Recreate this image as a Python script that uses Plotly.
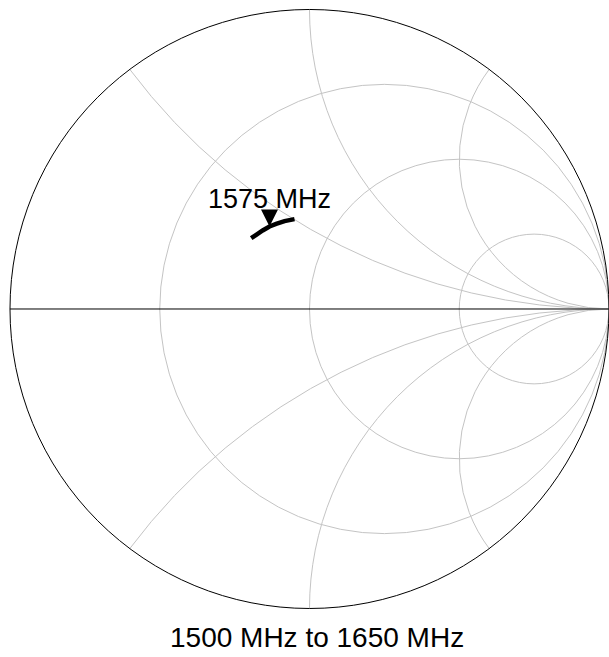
import plotly.graph_objects as go

# Sweep frequencies (MHz) and normalized impedance
freq_mhz = [1500, 1525, 1550, 1575, 1600, 1625, 1650]
z_real = [0.611, 0.626, 0.645, 0.666, 0.689, 0.720, 0.761]
z_imag = [0.319, 0.342, 0.373, 0.405, 0.432, 0.466, 0.503]

marker_freq = 1575
marker_label = "1575 MHz"
title_text = "1500 MHz to 1650 MHz"

r_grid = [1/3, 1, 3]
x_grid = [-2, -1, -0.5, 0.5, 1, 2]

mi = freq_mhz.index(marker_freq)

fig = go.Figure()
fig.add_trace(go.Scattersmith(
    real=z_real, imag=z_imag, mode="lines",
    line=dict(color="black", width=4.5),
    hoverinfo="skip", showlegend=False,
))
fig.add_trace(go.Scattersmith(
    real=[z_real[mi]], imag=[z_imag[mi]], mode="markers+text",
    marker=dict(symbol="arrow-down", size=17, color="black"),
    text=[marker_label], textposition="top center",
    textfont=dict(family="Liberation Sans, Arial, sans-serif", size=27, color="black"),
    hoverinfo="skip", showlegend=False,
))

grid_col = "#c4c4c4"
fig.update_layout(
    width=609, height=657,
    margin=dict(l=0, r=0, t=0, b=0),
    paper_bgcolor="white",
    showlegend=False,
    hovermode=False,
    font=dict(family="Liberation Sans, Arial, sans-serif", color="black"),
    smith=dict(
        domain=dict(x=[0.0164, 1.0], y=[0.0738, 0.9856]),
        bgcolor="white",
        realaxis=dict(tickvals=r_grid, showticklabels=False, ticks="",
                      gridcolor=grid_col, gridwidth=1,
                      showline=True, linecolor="black", linewidth=1),
        imaginaryaxis=dict(tickvals=x_grid, showticklabels=False, ticks="",
                           gridcolor=grid_col, gridwidth=1,
                           showline=True, linecolor="black", linewidth=1),
    ),
    annotations=[dict(text=title_text, xref="paper", yref="paper",
                      x=0.52, y=0.0304, xanchor="center", yanchor="middle",
                      showarrow=False,
                      font=dict(family="Liberation Sans, Arial, sans-serif", size=28, color="black"))],
)

fig.write_html(
    "out.html",
    config={"displayModeBar": False},
    post_script="document.body.style.margin='0';document.body.style.overflow='hidden';",
)
